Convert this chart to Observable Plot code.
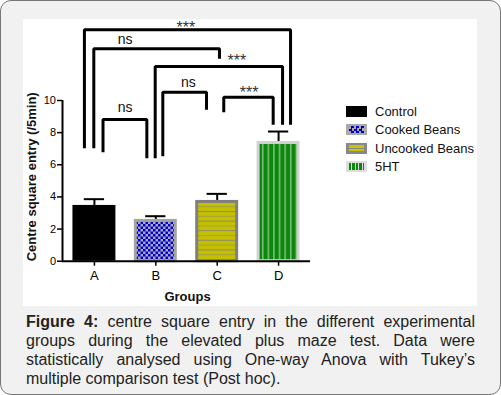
<!DOCTYPE html>
<html>
<head>
<meta charset="utf-8">
<script src="https://cdn.jsdelivr.net/npm/d3@7"></script>
<script src="https://cdn.jsdelivr.net/npm/@observablehq/plot@0.6"></script>
<style>
  html, body { margin: 0; padding: 0; background: #fff; }
  body { width: 501px; height: 395px; position: relative; overflow: hidden; font-family: "Liberation Sans", Arial, sans-serif; }
  #frame { position: absolute; left: 0; top: 0; width: 499px; height: 393px; border: 1px solid #777; border-radius: 11px; background: #f1f1f1; }
  #panel { position: absolute; left: 23px; top: 19px; width: 454px; height: 287px; background: #fff; }
  #caption { position: absolute; left: 26px; top: 312px; width: 449px; font-size: 16px; line-height: 19px; color: #222; }
  #caption div { text-align: justify; text-align-last: justify; white-space: nowrap; height: 19px; }
  #caption div.last { text-align-last: left; }
  #caption b { font-weight: bold; }
  .leg { position: absolute; left: 346px; height: 18px; display: flex; align-items: center; font-size: 13px; color: #111; white-space: nowrap; }
  .sw { width: 21px; height: 11px; box-sizing: border-box; margin-right: 8px; }
</style>
</head>
<body>
<div id="frame"></div>
<div id="panel"></div>
<div id="legend"></div>
<div id="caption">
  <div><b>Figure 4:</b> centre square entry in the different experimental</div>
  <div>groups during the elevated plus maze test. Data were</div>
  <div>statistically analysed using One-way Anova with Tukey’s</div>
  <div class="last">multiple comparison test (Post hoc).</div>
</div>
<script>
// ---- data ----
const groups = ["A", "B", "C", "D"];
const treatments = ["Control", "Cooked Beans", "Uncooked Beans", "5HT"];
const means = [3.47, 2.6, 3.78, 7.45];
const sems = [0.39, 0.2, 0.41, 0.62];
const yTicks = [0, 2, 4, 6, 8, 10];
const yLabel = "Centre square entry (/5min)";
const xLabel = "Groups";

// significance brackets (Tukey comparisons)
const pairs = [["A", "D"], ["A", "C"], ["B", "D"], ["B", "C"], ["C", "D"], ["A", "B"]];
const sigLabels = ["***", "ns", "***", "ns", "***", "ns"];
const bracketTop = [14.4, 13.22, 12.12, 10.52, 10.2, 8.82];
const leftLegEnd = [7.03, 7.03, 6.41, 6.53, 9.27, 6.78];
const rightLegEnd = [8.49, 12.6, 8.49, 9.42, 8.49, 6.41];
const leftLegShift = [-0.163, -0.01, -0.01, 0.114, 0.107, 0.14];
const rightLegShift = [0.195, 0.037, 0.065, -0.174, -0.088, -0.146];
const labelX = [1.49, 0.5, 2.32, 1.53, 2.52, 0.5];
const labelY = [14.77, 13.73, 12.69, 11.07, 10.73, 9.5];

// ---- tables ----
const bars = groups.map((g, i) => ({g, i, mean: means[i], hi: means[i] + sems[i], treatment: treatments[i]}));
const fills = ["#000", "url(#pB)", "url(#pC)", "url(#pD)"];
const strokes = ["none", "#a4a4a4", "#808080", "#d2d2d2"];
const idx = g => groups.indexOf(g);
const bracketPts = [];
pairs.forEach(([a, b], k) => {
  const xl = idx(a) + leftLegShift[k], xr = idx(b) + rightLegShift[k];
  bracketPts.push({k, x: xl, y: leftLegEnd[k]}, {k, x: xl, y: bracketTop[k]},
                  {k, x: xr, y: bracketTop[k]}, {k, x: xr, y: rightLegEnd[k]});
});
const labels = sigLabels.map((t, k) => ({t, x: labelX[k], y: labelY[k], star: t.startsWith("*")}));

const x1 = -0.52, x2 = 3.52;
const barMarks = bars.map((d, i) => Plot.rectY([d], {
  x1: d => d.i - 0.35, x2: d => d.i + 0.35, y1: 0, y2: "mean",
  fill: fills[i], stroke: strokes[i], strokeWidth: strokes[i] === "none" ? 0 : 3,
  inset: strokes[i] === "none" ? 0 : 1.5, insetBottom: 0
}));

const chart = Plot.plot({
  width: 454, height: 287,
  marginLeft: 39, marginRight: 167, marginTop: 81, marginBottom: 45.3,
  style: {fontFamily: "'Liberation Sans', Arial, sans-serif", background: "transparent", overflow: "visible", color: "#000"},
  x: {type: "linear", domain: [x1, x2], axis: null},
  y: {domain: [0, 10], axis: null},
  marks: [
    ...barMarks,
    Plot.ruleX(bars, {x: "i", y1: "mean", y2: "hi", stroke: "#000", strokeWidth: 2}),
    Plot.ruleY(bars, {y: "hi", x1: d => d.i - 0.165, x2: d => d.i + 0.165, stroke: "#000", strokeWidth: 2}),
    Plot.axisY({ticks: yTicks, tickSize: 5, tickPadding: 1.5, fontSize: 11, strokeWidth: 1.5, label: null, tickFormat: d => String(d)}),
    Plot.axisX({ticks: [0, 1, 2, 3], tickSize: 5, tickPadding: 4.5, fontSize: 13, strokeWidth: 1.5, label: null, tickFormat: d => groups[d]}),
    Plot.ruleX([x1], {y1: 0, y2: 10, stroke: "#000", strokeWidth: 2}),
    Plot.ruleY([0], {x1: x1, x2: x2, stroke: "#000", strokeWidth: 2}),
    Plot.line(bracketPts, {x: "x", y: "y", z: "k", stroke: "#000", strokeWidth: 3, strokeLinejoin: "miter", strokeLinecap: "butt"}),
    Plot.text(labels.filter(d => !d.star), {x: "x", y: "y", text: "t", fontSize: 14, fill: "#111", dy: -1}),
    Plot.text(labels.filter(d => d.star), {x: "x", y: "y", text: "t", fontSize: 16, fill: "#333", dy: 4}),
    Plot.text([yLabel], {frameAnchor: "left", textAnchor: "middle", lineAnchor: "middle", rotate: -90, dx: -30.5, dy: -4, fontSize: 13, fontWeight: "bold", fill: "#111"}),
    Plot.text([xLabel], {frameAnchor: "bottom", textAnchor: "middle", lineAnchor: "middle", dx: 1, dy: 36, fontSize: 13, fontWeight: "bold", fill: "#111"})
  ]
});

// patterns for bar fills
const svg = d3.select(chart.tagName.toLowerCase() === "svg" ? chart : chart.querySelector("svg"));
const defs = svg.insert("defs", ":first-child");
const pB = defs.append("pattern").attr("id", "pB").attr("patternUnits", "userSpaceOnUse").attr("width", 5).attr("height", 5);
pB.append("rect").attr("width", 5).attr("height", 5).attr("fill", "#a8a8b4");
pB.append("rect").attr("width", 2.5).attr("height", 2.5).attr("fill", "#0000d0");
pB.append("rect").attr("x", 2.5).attr("y", 2.5).attr("width", 2.5).attr("height", 2.5).attr("fill", "#0000d0");
const pC = defs.append("pattern").attr("id", "pC").attr("patternUnits", "userSpaceOnUse").attr("width", 10).attr("height", 9.6);
pC.append("rect").attr("width", 10).attr("height", 9.6).attr("fill", "#c4bf00");
pC.append("rect").attr("y", 0).attr("width", 10).attr("height", 1).attr("fill", "#8c8c6a");
pC.append("rect").attr("y", 4.8).attr("width", 10).attr("height", 1).attr("fill", "#a4a23c");
const pD = defs.append("pattern").attr("id", "pD").attr("patternUnits", "userSpaceOnUse").attr("width", 5.6).attr("height", 10);
pD.append("rect").attr("width", 5.6).attr("height", 10).attr("fill", "#0c870c");
pD.append("rect").attr("x", 4).attr("width", 1.1).attr("height", 10).attr("fill", "#a9d6a9");

chart.style.position = "absolute";
chart.style.left = "23px";
chart.style.top = "19px";
document.body.appendChild(chart);

// legend
const legendTops = [102, 120.5, 139, 157.5];
const swatchCss = [
  "background:#000;",
  "background:#aaa; padding:2px 3px;",
  "background:#888; padding:2px 3px;",
  "background:#ddd; padding:2px 3px;"
];
const innerCss = [
  "",
  "background: repeating-conic-gradient(#0000cc 0 25%, #aaa 0 50%) 0 0/5px 5px;",
  "background: repeating-linear-gradient(180deg, #c8c400 0 2.5px, #888 2.5px 3.5px);",
  "background: repeating-linear-gradient(90deg, #0c870c 0 2.5px, #ddd 2.5px 3.5px);"
];
const legend = document.getElementById("legend");
treatments.forEach((t, i) => {
  const row = document.createElement("div");
  row.className = "leg";
  row.style.top = legendTops[i] + "px";
  row.innerHTML = `<div class="sw" style="${swatchCss[i]}"><div style="width:100%;height:100%;${innerCss[i]}"></div></div><span>${t}</span>`;
  legend.appendChild(row);
});
</script>
</body>
</html>
